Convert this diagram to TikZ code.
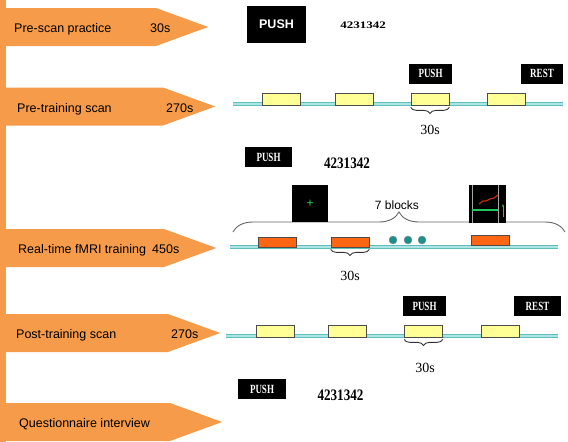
\documentclass[tikz,border=0pt]{standalone}
\usepackage{graphicx}
\usepackage{fontspec}
\setmainfont{Liberation Serif}
\setsansfont{Liberation Sans}
\usetikzlibrary{positioning, calc}
\usetikzlibrary{arrows.meta, shapes.symbols, decorations.pathreplacing}
\definecolor{stageorange}{RGB}{246,155,74}
\definecolor{lineteal}{RGB}{95,190,190}
\definecolor{lightteal}{RGB}{175,228,228}
\definecolor{blockyellow}{RGB}{255,255,150}
\definecolor{blockorange}{RGB}{255,102,20}
\definecolor{dotteal}{RGB}{25,145,140}
\definecolor{fbgreen}{RGB}{30,200,90}
\definecolor{fbred}{RGB}{190,50,20}
\tikzstyle{stagearrow}=[signal, signal to=east, signal pointer angle=40, fill=stageorange,
minimum height=38pt, inner sep=0pt, anchor=west]
\tikzstyle{stagetext}=[font=\sffamily\fontsize{12.5}{12.5}\selectfont, anchor=base west, inner sep=0pt]
\tikzstyle{timeline}=[draw=lineteal, line width=1.3pt, double=lightteal, double distance=1.8pt]
\tikzstyle{block}=[rectangle, draw=black!70, line width=0.8pt, minimum width=38pt,
minimum height=12pt, inner sep=0pt]
\tikzstyle{restblock}=[block, fill=blockyellow]
\tikzstyle{taskblock}=[block, fill=blockorange, minimum height=10pt]
\tikzstyle{cuebox}=[rectangle, fill=black, text=white, inner sep=0pt, minimum width=43pt,
minimum height=20pt, font=\bfseries\fontsize{12.5}{12.5}\selectfont]
\tikzstyle{screen}=[rectangle, fill=black, inner sep=0pt]
\tikzstyle{numtext}=[font=\bfseries\fontsize{16}{16}\selectfont, inner sep=0pt]
\tikzstyle{seclabel}=[font=\fontsize{14}{14}\selectfont, inner sep=0pt]
\tikzstyle{dot}=[circle, fill=dotteal, draw=black!45, thin, minimum size=8pt, inner sep=0pt]
\tikzstyle{bracepath}=[decorate, decoration={brace, mirror, amplitude=6pt}, line width=0.9pt,
draw=black!80]
\tikzstyle{bigbrace}=[decorate, decoration={brace, amplitude=20pt}, line width=0.9pt,
draw=black!60]

\begin{document}
\begin{tikzpicture}[x=1pt, y=-1pt]
    \useasboundingbox (0,0) rectangle (568,442);

    % stages
    \fill[stageorange] (0,0) rectangle (6,442);
    \node[stagearrow, minimum width=208pt] (s1) at (0,27) {};
    \node[stagearrow, minimum width=215pt] (s2) at (0,106.5) {};
    \node[stagearrow, minimum width=216pt] (s3) at (0,248) {};
    \node[stagearrow, minimum width=220pt] (s4) at (0,333) {};
    \node[stagearrow, minimum width=222pt] (s5) at (0,422) {};

    \node[stagetext] (t1) at (14,32) {Pre-scan practice};
    \node[stagetext] (d1) at (150,32) {30s};
    \node[stagetext] (t2) at (17,112) {Pre-training scan};
    \node[stagetext] (d2) at (166,112) {270s};
    \node[stagetext] (t3) at (18,253) {Real-time fMRI training};
    \node[stagetext] (d3) at (152,253) {450s};
    \node[stagetext] (t4) at (16,338) {Post-training scan};
    \node[stagetext] (d4) at (171,338) {270s};
    \node[stagetext] (t5) at (19,427) {Questionnaire interview};

    % pre-scan practice
    \node[cuebox, minimum width=59pt, minimum height=37pt,
    font=\sffamily\bfseries\fontsize{12.5}{12.5}\selectfont] (push1) at (276.5,24.5) {PUSH};
    \node[numtext] (num1) at (363,25) {\scalebox{1.3}[1]{\fontsize{10}{10}\selectfont 4231342}};

    % pre-training scan
    \coordinate (tl1a) at (233,104);
    \coordinate (tl1b) at (563,104);
    \draw[timeline] (tl1a) -- (tl1b);
    \node[restblock] (y11) at (281,99) {};
    \node[restblock] (y12) at (354,99) {};
    \node[restblock] (y13) at (430,99) {};
    \node[restblock] (y14) at (506,99) {};
    \node[cuebox] (push2) at (430.5,73.5) {\scalebox{0.72}[1]{PUSH}};
    \node[cuebox, minimum width=42pt] (rest2) at (542,73.5) {\scalebox{0.72}[1]{REST}};
    \draw[bracepath] ([yshift=-2pt]y13.south west) -- ([yshift=-2pt]y13.south east);
    \node[seclabel] (sec2) at (430,130) {30s};
    \node[cuebox, minimum width=47pt] (push3) at (268.5,157) {\scalebox{0.72}[1]{PUSH}};
    \node[numtext] (num2) at (347,163) {\scalebox{0.82}[1]{4231342}};

    % real-time fMRI training
    \coordinate (br1) at (233,232);
    \coordinate (br2) at (565,232);
    \draw[bigbrace] (br1) -- (br2);
    \node[font=\sffamily\fontsize{12}{12}\selectfont, inner sep=0pt] (blk) at (397,205) {7 blocks};
    \node[screen, minimum width=36pt, minimum height=37pt] (fix) at (310,203.5) {};
    \node[text=fbgreen, font=\bfseries\fontsize{13}{13}\selectfont, inner sep=0pt] (cross) at (fix) {+};
    \node[screen, minimum width=37pt, minimum height=38pt] (fb) at (487.5,204) {};
    \draw[black!35, line width=0.8pt] (472,185) -- (472,223);
    \draw[black!35, line width=0.8pt] (498,185) -- (498,223);
    \draw[fbgreen, line width=1.2pt] (472,210) -- (498,210);
    \draw[fbred, line width=1.2pt] (479,204) -- (483,201) -- (486,201) -- (490,199) -- (494,198) -- (498,195);
    \draw[fbgreen, line width=0.8pt, -{Stealth[length=3pt]}] (503,217) -- (503,204);

    \coordinate (tl2a) at (230,247);
    \coordinate (tl2b) at (558,247);
    \draw[timeline] (tl2a) -- (tl2b);
    \node[taskblock] (o21) at (277,242) {};
    \node[taskblock] (o22) at (350,242) {};
    \node[taskblock] (o23) at (490.5,240) {};
    \node[dot] (dot1) at (393,240) {};
    \node[dot] (dot2) at (408,240) {};
    \node[dot] (dot3) at (422,240) {};
    \draw[bracepath] ([yshift=-2pt]o22.south west) -- ([yshift=-2pt]o22.south east);
    \node[seclabel] (sec3) at (350,276) {30s};

    % post-training scan
    \node[cuebox] (push4) at (424.5,306) {\scalebox{0.72}[1]{PUSH}};
    \node[cuebox, minimum width=47pt] (rest4) at (537.5,306) {\scalebox{0.72}[1]{REST}};
    \coordinate (tl3a) at (226,336);
    \coordinate (tl3b) at (558,336);
    \draw[timeline] (tl3a) -- (tl3b);
    \node[restblock] (y31) at (275,331) {};
    \node[restblock] (y32) at (347.5,331) {};
    \node[restblock] (y33) at (423.5,331) {};
    \node[restblock] (y34) at (500,331) {};
    \draw[bracepath] ([yshift=-2pt]y33.south west) -- ([yshift=-2pt]y33.south east);
    \node[seclabel] (sec4) at (425,368) {30s};
    \node[cuebox, minimum width=48pt] (push5) at (262,389) {\scalebox{0.72}[1]{PUSH}};
    \node[numtext] (num3) at (340.5,395) {\scalebox{0.82}[1]{4231342}};
\end{tikzpicture}
\end{document}
